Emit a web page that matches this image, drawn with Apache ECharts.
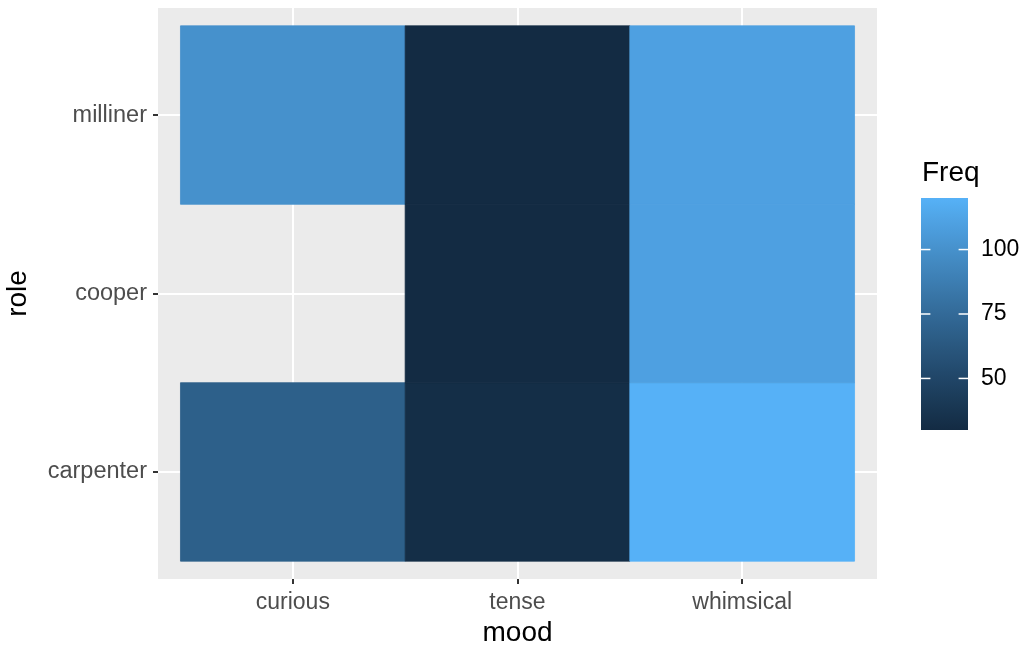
<!DOCTYPE html>
<html><head><meta charset="utf-8">
<script src="https://cdn.jsdelivr.net/npm/echarts@6/dist/echarts.min.js"></script>
<style>html,body{margin:0;padding:0;background:#fff}#c{width:1026px;height:648px}</style>
</head><body><div id="c"></div>
<script>
// ---- data ----
const moods = ['curious', 'tense', 'whimsical'];
const roles = ['carpenter', 'cooper', 'milliner'];
// Freq by role (carpenter, cooper, milliner)
const curiousFreq = [68, null, 100];
const tenseFreq = [32, 30, 30];
const whimsicalFreq = [120, 110, 110];
const legendTicks = [50, 75, 100];
const lowColor = '#132B43';
const highColor = '#56B1F7';

// ---- Lab interpolation (like ggplot's seq_gradient) ----
function hexToRgb(h){h=h.replace('#','');return [0,2,4].map(i=>parseInt(h.substr(i,2),16)/255);}
function lin(c){return c<=0.04045?c/12.92:Math.pow((c+0.055)/1.055,2.4);}
function delin(c){return c<=0.0031308?12.92*c:1.055*Math.pow(c,1/2.4)-0.055;}
const Xn=0.95047,Yn=1,Zn=1.08883;
function f(t){return t>0.008856?Math.cbrt(t):7.787*t+16/116;}
function finv(t){return t*t*t>0.008856?t*t*t:(t-16/116)/7.787;}
function toLab(hex){const [r,g,b]=hexToRgb(hex).map(lin);
  const X=0.4124*r+0.3576*g+0.1805*b,Y=0.2126*r+0.7152*g+0.0722*b,Z=0.0193*r+0.1192*g+0.9505*b;
  const fx=f(X/Xn),fy=f(Y/Yn),fz=f(Z/Zn);return [116*fy-16,500*(fx-fy),200*(fy-fz)];}
function fromLab(L){const fy=(L[0]+16)/116,fx=fy+L[1]/500,fz=fy-L[2]/200;
  const X=Xn*finv(fx),Y=Yn*finv(fy),Z=Zn*finv(fz);
  let r=3.2406*X-1.5372*Y-0.4986*Z,g=-0.9689*X+1.8758*Y+0.0415*Z,b=0.0557*X-0.2040*Y+1.0570*Z;
  return '#'+[r,g,b].map(c=>{let v=Math.round(Math.min(1,Math.max(0,delin(c)))*255);return v.toString(16).padStart(2,'0');}).join('');}
const labLo=toLab(lowColor),labHi=toLab(highColor);
const NSTOP=20;
const rampColors=[];
for(let i=0;i<=NSTOP;i++){const t=i/NSTOP;rampColors.push(fromLab(labLo.map((v,k)=>v+(labHi[k]-v)*t)));}

// ---- build data ----
const byMood=[curiousFreq,tenseFreq,whimsicalFreq];
const tiles=[];
byMood.forEach((arr,mi)=>arr.forEach((v,ri)=>{if(v!=null)tiles.push([mi+1,ri+1,v]);}));
const allVals=tiles.map(d=>d[2]);
const vMin=Math.min(...allVals),vMax=Math.max(...allVals);

const FONT='Liberation Sans';
const chart=echarts.init(document.getElementById('c'),null,{renderer:'canvas'});
chart.setOption({
  animation:false,
  textStyle:{fontFamily:FONT},
  title:{text:'Freq',left:917,top:154,textStyle:{fontSize:28,fontWeight:'normal',color:'#000',fontFamily:FONT}},
  grid:[
    {left:158,right:149,top:8,bottom:69,show:true,backgroundColor:'#EBEBEB',borderWidth:0,containLabel:false,outerBoundsMode:'none'},
    {left:921,width:47,top:198,height:232,show:false,containLabel:false,outerBoundsMode:'none'}
  ],
  visualMap:{type:'continuous',show:false,min:vMin,max:vMax,dimension:2,seriesIndex:0,inRange:{color:rampColors}},
  xAxis:[
    {type:'value',gridIndex:0,min:0.4,max:3.6,
     axisLine:{show:false},
     axisTick:{show:true,customValues:[1,2,3],length:5,lineStyle:{color:'#333333',width:2}},
     axisLabel:{customValues:[1,2,3],formatter:v=>moods[Math.round(v)-1],color:'#4D4D4D',fontSize:23,margin:12,fontFamily:FONT},
     splitLine:{show:true,lineStyle:{color:'#FFFFFF',width:2}},
     name:'mood',nameLocation:'middle',nameGap:40,nameTextStyle:{fontSize:28,color:'#000',fontFamily:FONT,verticalAlign:'top'}},
    {type:'value',gridIndex:1,min:0,max:1,show:false}
  ],
  yAxis:[
    {type:'value',gridIndex:0,min:0.4,max:3.6,
     axisLine:{show:false},
     axisTick:{show:true,customValues:[1,2,3],length:5,lineStyle:{color:'#333333',width:2}},
     axisLabel:{customValues:[1,2,3],formatter:v=>roles[Math.round(v)-1],color:'#4D4D4D',fontSize:23.5,margin:11,fontFamily:FONT},
     splitLine:{show:true,lineStyle:{color:'#FFFFFF',width:2}},
     name:'role',nameLocation:'middle',nameGap:126,nameRotate:90,nameTextStyle:{fontSize:28,color:'#000',fontFamily:FONT}},
    {type:'value',gridIndex:1,min:vMin,max:vMax,position:'right',
     axisLine:{show:false},
     axisTick:{show:false},
     axisLabel:{customValues:legendTicks,color:'#000',fontSize:23,margin:13,fontFamily:FONT},
     splitLine:{show:false}}
  ],
  series:[
    {type:'custom',xAxisIndex:0,yAxisIndex:0,encode:{x:0,y:1},data:tiles,
     renderItem:(params,api)=>{
       const x=api.value(0),y=api.value(1);
       const p0=api.coord([x-0.5,y+0.5]),p1=api.coord([x+0.5,y-0.5]);
       const c=api.visual('color');
       return {type:'rect',shape:{x:p0[0],y:p0[1],width:p1[0]-p0[0],height:p1[1]-p0[1]},style:{fill:c,stroke:c,lineWidth:0.8}};
     }},
    {type:'custom',xAxisIndex:1,yAxisIndex:1,encode:{x:0,y:[1,2]},data:[[0,vMin,vMax]],silent:true,
     renderItem:(params,api)=>{
       const p0=api.coord([0,api.value(2)]),p1=api.coord([1,api.value(1)]);
       const w=p1[0]-p0[0];
       const stops=rampColors.map((c,i)=>({offset:1-i/NSTOP,color:c})).reverse();
       const children=[{type:'rect',shape:{x:p0[0],y:p0[1],width:w,height:p1[1]-p0[1]},
         style:{fill:{type:'linear',x:0,y:0,x2:0,y2:1,colorStops:stops}}}];
       legendTicks.forEach(t=>{
         const yy=api.coord([0,t])[1];
         children.push({type:'line',shape:{x1:p0[0],y1:yy,x2:p0[0]+w/5,y2:yy},style:{stroke:'#FFFFFF',lineWidth:1.5}});
         children.push({type:'line',shape:{x1:p1[0]-w/5,y1:yy,x2:p1[0],y2:yy},style:{stroke:'#FFFFFF',lineWidth:1.5}});
       });
       return {type:'group',children};
     }}
  ]
});
</script></body></html>
